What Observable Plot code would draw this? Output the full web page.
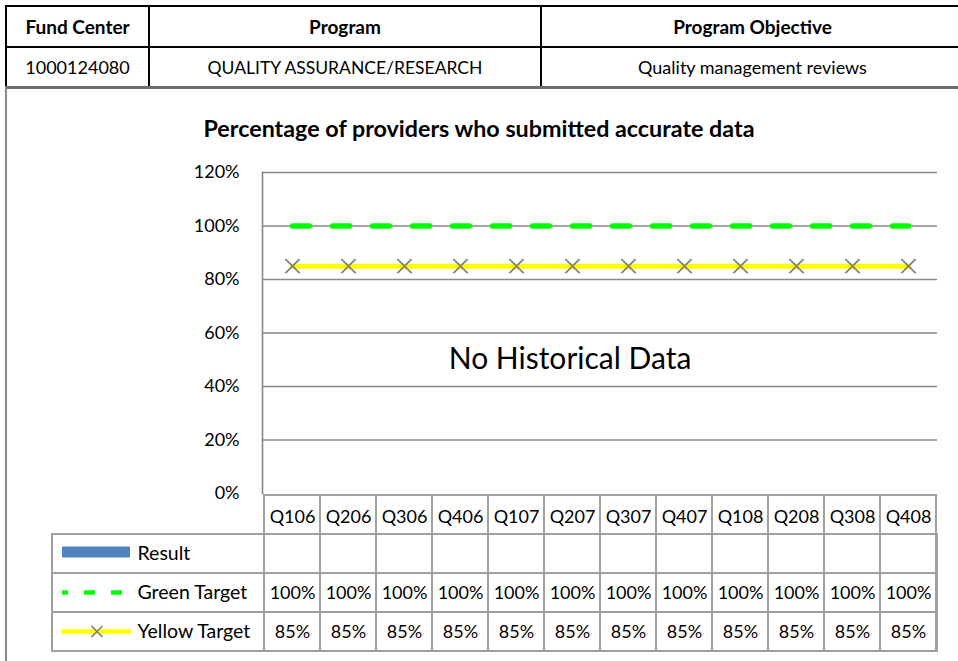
<!DOCTYPE html>
<html>
<head>
<meta charset="utf-8">
<script src="https://cdn.jsdelivr.net/npm/d3@7"></script>
<script src="https://cdn.jsdelivr.net/npm/@observablehq/plot@0.6"></script>
<style>
  html, body { margin: 0; padding: 0; background: white; }
  #page { position: relative; width: 958px; height: 661px; overflow: hidden; font-family: Lato, "Open Sans", "DejaVu Sans", sans-serif; color: #000; }
  #hdr { position: absolute; left: 5px; top: 5px; width: 960px; border-collapse: collapse; table-layout: fixed; }
  #hdr td { border: 2.5px solid #000; text-align: center; padding: 0; white-space: nowrap; }
  #hdr tr.h td { font-weight: bold; height: 39px; font-size: 19px; }
  #hdr tr.v td { height: 38px; font-size: 18px; }
  #hdr tr.v td.caps { font-size: 17.5px; }
  #frame { position: absolute; left: 5px; top: 86px; width: 1000px; height: 700px; border-left: 2px solid #8a8a8a; border-top: 3px solid #6f6f6f; box-sizing: border-box; }
  #title { position: absolute; left: 0; top: 114px; width: 958px; text-align: center; font-weight: bold; font-size: 23.3px; line-height: 28px; }
  #chart { position: absolute; left: 0; top: 150px; }
  #table { position: absolute; left: 0; top: 480px; }
</style>
</head>
<body>
<div id="page">
  <table id="hdr">
    <colgroup><col style="width:143px"><col style="width:392px"><col></colgroup>
    <tr class="h"></tr>
    <tr class="v"></tr>
  </table>
  <div id="frame"></div>
  <div id="title"></div>
  <div id="chart"></div>
  <div id="table"></div>
</div>
<script>
// ---- data ----
const headerCols = ["Fund Center", "Program", "Program Objective"];
const headerVals = ["1000124080", "QUALITY ASSURANCE/RESEARCH", "Quality management reviews"];
const chartTitle = "Percentage of providers who submitted accurate data";
const quarters = ["Q106", "Q206", "Q306", "Q406", "Q107", "Q207", "Q307", "Q407", "Q108", "Q208", "Q308", "Q408"];
const result = [null, null, null, null, null, null, null, null, null, null, null, null];
const greenTarget = [100, 100, 100, 100, 100, 100, 100, 100, 100, 100, 100, 100];
const yellowTarget = [85, 85, 85, 85, 85, 85, 85, 85, 85, 85, 85, 85];
const yTicks = [0, 20, 40, 60, 80, 100, 120];
const rowLabels = ["Result", "Green Target", "Yellow Target"];
const noDataText = "No Historical Data";

// ---- header ----
const hr = document.querySelector("#hdr tr.h");
const vr = document.querySelector("#hdr tr.v");
headerCols.forEach(t => { const td = document.createElement("td"); td.textContent = t; hr.appendChild(td); });
headerVals.forEach((t, i) => { const td = document.createElement("td"); td.textContent = t; if (i === 1) td.className = "caps"; vr.appendChild(td); });
document.getElementById("title").textContent = chartTitle;

const FONT = 'Lato, "Open Sans", "DejaVu Sans", sans-serif';
const GRID = "#878787";
const TBL = "#a0a0a0";

const data = quarters.map((q, i) => ({q, result: result[i], green: greenTarget[i], yellow: yellowTarget[i]}));

// ---- chart ----
const chart = Plot.plot({
  width: 958, height: 365,
  marginLeft: 262, marginRight: 21, marginTop: 22, marginBottom: 22,
  style: {background: "transparent", fontFamily: FONT, fontSize: "18px", color: "#000"},
  x: {type: "band", domain: quarters, padding: 0, axis: null},
  y: {domain: [0, 120], ticks: yTicks, tickFormat: d => d + "%", tickSize: 0, tickPadding: 23, label: null},
  marks: [
    Plot.ruleY(yTicks.filter(t => t > 0), {stroke: GRID, strokeWidth: 1.6}),
    Plot.frame({anchor: "left", stroke: GRID, strokeWidth: 1.6}),
    Plot.barY(data.filter(d => d.result != null), {x: "q", y: "result", fill: "#4f81bd", inset: 10}),
    Plot.line(data, {x: "q", y: "green", stroke: "#00ff00", strokeWidth: 5.5, strokeDasharray: "17,23", strokeLinecap: "round"}),
    Plot.line(data, {x: "q", y: "yellow", stroke: "#ffff00", strokeWidth: 5}),
    Plot.dot(data, {x: "q", y: "yellow", symbol: "times", stroke: "#7f7f7f", r: 6.5, strokeWidth: 1.7}),
    Plot.text([noDataText], {frameAnchor: "middle", dx: -30, dy: 26, fontSize: 30, fill: "#000"})
  ]
});
document.getElementById("chart").appendChild(chart);

// ---- data table ----
const catRow = "Quarter";
const cells = [];
rowLabels.forEach((r, ri) => {
  quarters.forEach((q, i) => {
    const v = ri === 0 ? result[i] : ri === 1 ? greenTarget[i] : yellowTarget[i];
    cells.push({q, row: r, text: v == null ? "" : v + "%"});
  });
});
const table = Plot.plot({
  width: 958, height: 181,
  marginLeft: 52, marginRight: 21, marginTop: 14, marginBottom: 10,
  style: {background: "transparent", fontFamily: FONT, fontSize: "18px", color: "#000"},
  x: {type: "band", domain: quarters, padding: 0, range: [262, 937], axis: null},
  y: {type: "band", domain: [catRow, ...rowLabels], padding: 0, axis: null},
  marks: [
    Plot.cell(rowLabels, {y: d => d, fill: "none", stroke: TBL, strokeWidth: 2}),
    Plot.cell(quarters, {x: d => d, y: () => catRow, fill: "none", stroke: TBL, strokeWidth: 2}),
    Plot.cell(cells, {x: "q", y: "row", fill: "none", stroke: TBL, strokeWidth: 2}),
    Plot.text(quarters, {x: d => d, y: () => catRow, dy: 2, fontSize: 18, fill: "#000"}),
    Plot.text(cells, {x: "q", y: "row", text: "text", fontSize: 18, fill: "#000"}),
    Plot.text(rowLabels, {y: d => d, frameAnchor: "left", dx: 85, textAnchor: "start", fontSize: 19.5, fill: "#000"})
  ]
});
document.getElementById("table").appendChild(table);

// ---- legend keys (drawn into the table svg at the table's row positions) ----
const ys = table.scale("y");
const rowY = r => ys.apply(r) + ys.bandwidth / 2;
const svg = d3.select(table);
const g = svg.append("g");
g.append("rect").attr("x", 62).attr("y", rowY("Result") - 7).attr("width", 68).attr("height", 11).attr("fill", "#4f81bd");
g.append("line").attr("x1", 62).attr("x2", 125).attr("y1", rowY("Green Target")).attr("y2", rowY("Green Target"))
  .attr("stroke", "#00ff00").attr("stroke-width", 4.5).attr("stroke-dasharray", "11,16").attr("stroke-dashoffset", 5);
g.append("line").attr("x1", 62).attr("x2", 131).attr("y1", rowY("Yellow Target")).attr("y2", rowY("Yellow Target"))
  .attr("stroke", "#ffff00").attr("stroke-width", 4.5);
const cx = 97, cy = rowY("Yellow Target");
g.append("path").attr("d", `M${cx-5.5},${cy-5.5}L${cx+5.5},${cy+5.5}M${cx-5.5},${cy+5.5}L${cx+5.5},${cy-5.5}`)
  .attr("stroke", "#7f7f7f").attr("stroke-width", 1.7);
</script>
</body>
</html>
